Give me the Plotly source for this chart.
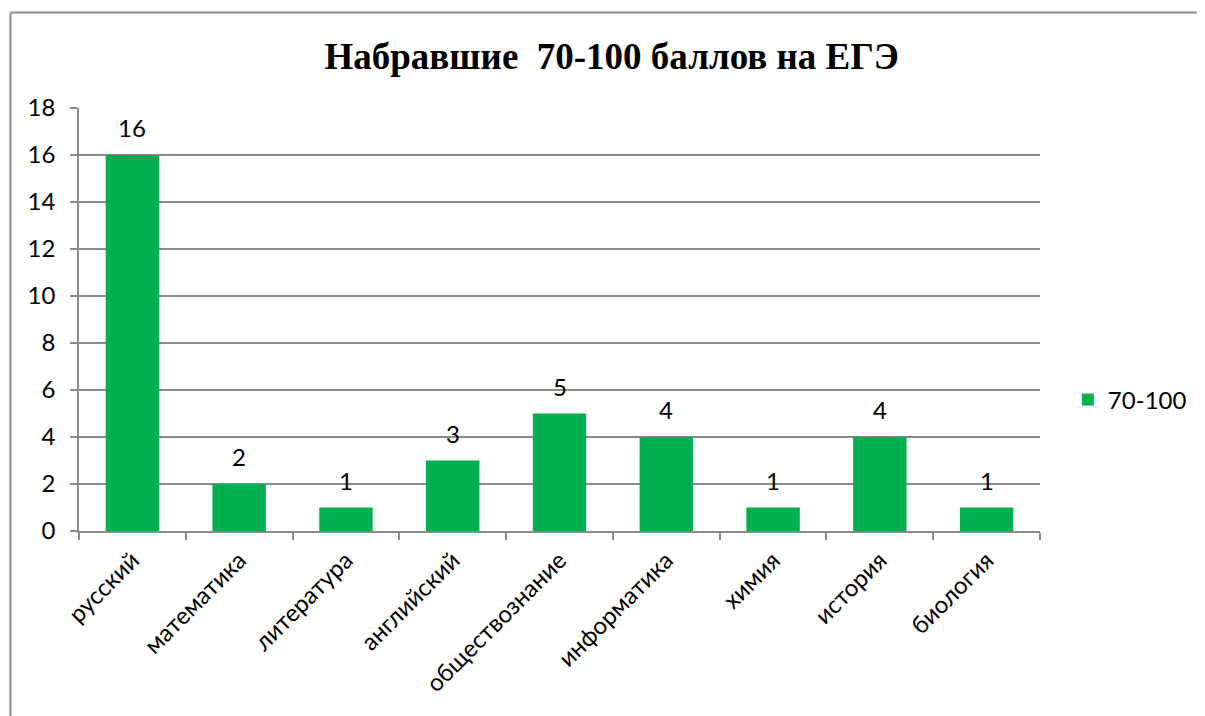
import plotly.graph_objects as go

categories = ["русский", "математика", "литература", "английский", "обществознание",
              "информатика", "химия", "история", "биология"]
values = [16, 2, 1, 3, 5, 4, 1, 4, 1]
series_name = "70-100"
title_text = "Набравшие \u00a070-100 баллов на ЕГЭ"

GREEN = "#00B050"
GRID = "#8a8a8a"
FONT = "Lato, 'Open Sans', sans-serif"
FS = 24

fig = go.Figure()
fig.add_trace(go.Bar(
    x=categories, y=values, name=series_name,
    marker=dict(color=GREEN, line=dict(width=0)),
    showlegend=True,
))

for c, v in zip(categories, values):
    fig.add_annotation(x=c, y=v, text=str(v), showarrow=False, yanchor="bottom",
                       yshift=11, font=dict(family=FONT, size=FS, color="#000"))

# page body has an 8px margin: plot area placed so it lands at x 79-1040, y 108-531 on screen
fig.update_layout(
    width=1205, height=716,
    margin=dict(l=71, r=173, t=100, b=193),
    paper_bgcolor="white", plot_bgcolor="white",
    bargap=0.5,
    font=dict(family=FONT, size=FS, color="#000"),
    title=dict(text="<b>" + title_text + "</b>", x=0.501, xanchor="center",
               y=1 - 48 / 716, yanchor="middle",
               font=dict(family="'Liberation Serif', 'Times New Roman', serif", size=37, color="#000")),
    legend=dict(x=1.029, y=0.31, xanchor="left", yanchor="middle",
                font=dict(family=FONT, size=FS), itemsizing="constant"),
    xaxis=dict(type="category", tickangle=-45, showgrid=False,
               showline=True, linecolor=GRID, linewidth=1.5,
               ticks="outside", tickson="boundaries", ticklen=7, tickcolor=GRID, tickwidth=1.5,
               ticklabelstandoff=4,
               tickfont=dict(family=FONT, size=FS)),
    yaxis=dict(range=[0, 18], dtick=2, showgrid=True, gridcolor=GRID, gridwidth=1.5,
               showline=True, linecolor=GRID, linewidth=1.5,
               ticks="outside", ticklen=7, tickcolor=GRID, tickwidth=1.5,
               ticklabelstandoff=10,
               zeroline=False, tickfont=dict(family=FONT, size=FS)),
)

# chart area border
x0 = (2.5 - 71) / 961
x1 = (1192.5 - 71) / 961
ytop = (523 - 4.5) / 423
ybot = -0.6
for (ax, ay, bx, by) in [(x0, ybot, x0, ytop), (x0, ytop, x1, ytop), (x1, ytop, x1, ybot)]:
    fig.add_shape(type="line", xref="paper", yref="paper", x0=ax, y0=ay, x1=bx, y1=by,
                  line=dict(color="#8c8c8c", width=2))

fig.write_html("out.html")
